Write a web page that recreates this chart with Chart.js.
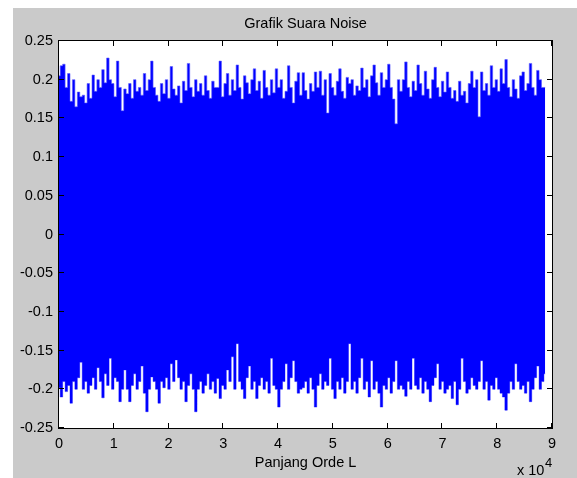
<!DOCTYPE html>
<html lang="en">
<head>
  <meta charset="UTF-8">
  <title>Grafik Suara Noise</title>
  <script src="https://cdn.jsdelivr.net/npm/chart.js"></script>
  <style>
    html, body { margin: 0; padding: 0; background: #fff; }
    #wrap { width: 577px; height: 478px; }
  </style>
</head>
<body>
  <div id="wrap"><canvas id="noiseChart" width="577" height="478"></canvas></div>
  <script>
    // samples between two envelope readings (x axis is sample index, shown as x 10^4)
    const sampleStep = 446;

    // upper edge of the noise band
    const upperPeaks = [
      0.205, 0.218, 0.22, 0.19, 0.208, 0.172, 0.2, 0.165, 0.184, 0.178,
      0.18, 0.17, 0.195, 0.176, 0.206, 0.185, 0.2, 0.19, 0.213, 0.196,
      0.228, 0.2, 0.195, 0.178, 0.224, 0.19, 0.16, 0.188, 0.182, 0.195,
      0.176, 0.2, 0.185, 0.19, 0.18, 0.208, 0.186, 0.2, 0.224, 0.19,
      0.18, 0.172, 0.195, 0.182, 0.2, 0.176, 0.217, 0.188, 0.18, 0.192,
      0.17, 0.198, 0.186, 0.221, 0.19, 0.178, 0.2, 0.185, 0.195, 0.18,
      0.205, 0.186, 0.176, 0.198, 0.19, 0.19, 0.224, 0.178, 0.195, 0.208,
      0.18, 0.2, 0.186, 0.219, 0.19, 0.175, 0.205, 0.196, 0.182, 0.2,
      0.214, 0.186, 0.198, 0.176, 0.212, 0.19, 0.18, 0.2, 0.183, 0.214,
      0.19, 0.2, 0.176, 0.185, 0.218, 0.19, 0.17, 0.198, 0.209, 0.18,
      0.209, 0.186, 0.175, 0.195, 0.185, 0.21, 0.19, 0.211, 0.18, 0.2,
      0.157, 0.208, 0.19, 0.18, 0.198, 0.214, 0.185, 0.176, 0.203, 0.195,
      0.2, 0.18, 0.192, 0.186, 0.215, 0.19, 0.2, 0.178, 0.205, 0.219,
      0.196, 0.18, 0.209, 0.19, 0.2, 0.22, 0.19, 0.175, 0.143, 0.2,
      0.185, 0.2, 0.223, 0.19, 0.178, 0.198, 0.186, 0.219, 0.195, 0.18,
      0.211, 0.188, 0.176, 0.2, 0.216, 0.19, 0.178, 0.198, 0.184, 0.21,
      0.19, 0.176, 0.186, 0.172, 0.198, 0.18, 0.185, 0.17, 0.195, 0.211,
      0.19, 0.2, 0.152, 0.21, 0.186, 0.195, 0.18, 0.218, 0.19, 0.2,
      0.185, 0.214, 0.195, 0.226, 0.19, 0.178, 0.2, 0.188, 0.176, 0.205,
      0.21, 0.186, 0.195, 0.221, 0.19, 0.18, 0.212, 0.2, 0.19, 0.19
    ];

    // lower edge of the noise band
    const lowerPeaks = [
      -0.198, -0.21, -0.19, -0.203, -0.195, -0.218, -0.19, -0.2, -0.185, -0.165,
      -0.2, -0.19, -0.205, -0.195, -0.185, -0.2, -0.172, -0.19, -0.211, -0.18,
      -0.195, -0.16, -0.2, -0.185, -0.19, -0.216, -0.2, -0.175, -0.2, -0.216,
      -0.195, -0.18, -0.2, -0.19, -0.17, -0.205, -0.229, -0.2, -0.184, -0.19,
      -0.2, -0.218, -0.19, -0.198, -0.185, -0.2, -0.167, -0.19, -0.162, -0.185,
      -0.2, -0.19, -0.216, -0.195, -0.18, -0.2, -0.229, -0.2, -0.19, -0.205,
      -0.195, -0.18, -0.2, -0.19, -0.205, -0.186, -0.212, -0.195, -0.2, -0.175,
      -0.19, -0.158, -0.2, -0.141, -0.19, -0.2, -0.212, -0.185, -0.17, -0.2,
      -0.19, -0.212, -0.195, -0.185, -0.2, -0.19, -0.205, -0.16, -0.195, -0.2,
      -0.223, -0.2, -0.19, -0.167, -0.2, -0.185, -0.163, -0.19, -0.205, -0.2,
      -0.198, -0.19, -0.205, -0.185, -0.2, -0.223, -0.195, -0.18, -0.2, -0.19,
      -0.195, -0.16, -0.2, -0.212, -0.19, -0.2, -0.185, -0.205, -0.19, -0.141,
      -0.2, -0.19, -0.205, -0.185, -0.16, -0.2, -0.19, -0.21, -0.163, -0.2,
      -0.19, -0.205, -0.223, -0.195, -0.2, -0.185, -0.205, -0.19, -0.163, -0.2,
      -0.195, -0.2, -0.209, -0.19, -0.2, -0.16, -0.195, -0.2, -0.185, -0.205,
      -0.19, -0.2, -0.216, -0.195, -0.185, -0.167, -0.2, -0.19, -0.205, -0.2,
      -0.195, -0.212, -0.19, -0.22, -0.2, -0.16, -0.19, -0.205, -0.2, -0.185,
      -0.195, -0.2, -0.19, -0.163, -0.2, -0.19, -0.214, -0.195, -0.2, -0.185,
      -0.2, -0.205, -0.21, -0.227, -0.205, -0.19, -0.2, -0.167, -0.19, -0.2,
      -0.195, -0.205, -0.19, -0.216, -0.2, -0.185, -0.17, -0.2, -0.19, -0.18
    ];

    const xTickLabels = ['0', '1', '2', '3', '4', '5', '6', '7', '8', '9'];

    const FONT = '"Liberation Sans", Arial, Helvetica, sans-serif';
    const TEXT = '#000';

    const upperPts = upperPeaks.map((v, i) => ({ x: i * sampleStep, y: v }));
    const lowerPts = lowerPeaks.map((v, i) => ({ x: i * sampleStep, y: v }));

    // MATLAB style figure: grey window, white axes box, ticks pointing inward
    const matlabFrame = {
      id: 'matlabFrame',
      beforeDraw(chart) {
        const { ctx, chartArea: a } = chart;
        ctx.save();
        ctx.fillStyle = '#fff';
        ctx.fillRect(0, 0, chart.width, chart.height);
        ctx.fillStyle = '#cacaca';
        ctx.fillRect(13, 8, chart.width - 13, chart.height - 8);
        ctx.fillStyle = '#fff';
        ctx.fillRect(a.left, a.top, a.right - a.left, a.bottom - a.top);
        ctx.restore();
      },
      afterDraw(chart) {
        const { ctx, chartArea: a, scales } = chart;
        ctx.save();
        ctx.strokeStyle = '#000';
        ctx.lineWidth = 1;
        ctx.strokeRect(a.left - 0.5, a.top - 0.5, a.right - a.left + 1, a.bottom - a.top + 1);
        ctx.beginPath();
        scales.x.ticks.forEach(t => {
          const px = Math.round(scales.x.getPixelForValue(t.value)) - 0.5;
          ctx.moveTo(px, a.bottom); ctx.lineTo(px, a.bottom - 5);
          ctx.moveTo(px, a.top); ctx.lineTo(px, a.top + 5);
        });
        scales.y.ticks.forEach(t => {
          const py = Math.round(scales.y.getPixelForValue(t.value)) - 0.5;
          ctx.moveTo(a.left, py); ctx.lineTo(a.left + 5, py);
          ctx.moveTo(a.right, py); ctx.lineTo(a.right - 5, py);
        });
        ctx.stroke();

        ctx.fillStyle = TEXT;
        ctx.textAlign = 'center';
        ctx.textBaseline = 'middle';
        ctx.font = '14.5px ' + FONT;
        ctx.fillText('Grafik Suara Noise', (a.left + a.right) / 2, 24);

        ctx.textAlign = 'left';
        ctx.fillText('x 10', 517, 471);
        ctx.font = '13px ' + FONT;
        ctx.fillText('4', 545, 463);
        ctx.restore();
      }
    };

    new Chart(document.getElementById('noiseChart'), {
      type: 'line',
      data: {
        datasets: [
          {
            data: upperPts,
            borderColor: '#5a5aff',
            backgroundColor: '#0000ff',
            borderWidth: 0.6,
            pointRadius: 0,
            stepped: 'middle',
            fill: '+1'
          },
          {
            data: lowerPts,
            borderColor: '#5a5aff',
            backgroundColor: '#0000ff',
            borderWidth: 0.6,
            pointRadius: 0,
            stepped: 'middle',
            fill: false
          }
        ]
      },
      options: {
        responsive: false,
        animation: false,
        devicePixelRatio: 1,
        layout: { padding: { top: 41, right: 25, left: 0, bottom: 0 } },
        plugins: {
          legend: { display: false },
          tooltip: { enabled: false },
          title: { display: false }
        },
        scales: {
          x: {
            type: 'linear',
            min: 0,
            max: 90000,
            grid: { display: false, drawTicks: false },
            border: { display: false },
            ticks: {
              stepSize: 10000,
              autoSkip: false,
              maxRotation: 0,
              padding: 7,
              color: TEXT,
              font: { family: FONT, size: 14.5 },
              callback: v => xTickLabels[Math.round(v / 10000)]
            },
            title: {
              display: true,
              text: 'Panjang Orde L',
              color: TEXT,
              font: { family: FONT, size: 14.5 },
              padding: { top: 0, bottom: 6 }
            },
            afterFit: s => { s.height = 50; }
          },
          y: {
            min: -0.25,
            max: 0.25,
            grid: { display: false, drawTicks: false },
            border: { display: false },
            ticks: {
              stepSize: 0.05,
              autoSkip: false,
              padding: 6,
              color: TEXT,
              font: { family: FONT, size: 14.5 },
              callback: v => String(+v.toFixed(2))
            },
            afterFit: s => { s.width = 59; }
          }
        }
      },
      plugins: [matlabFrame]
    });
  </script>
</body>
</html>
